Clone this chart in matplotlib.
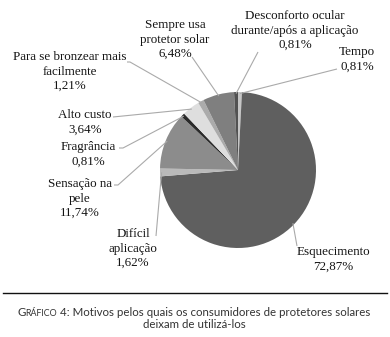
import matplotlib
matplotlib.use("Agg")
import matplotlib.pyplot as plt
import numpy as np

# Reasons consumers stop using sunscreen (share of answers, %)
categories = [
    "Tempo",
    "Esquecimento",
    "Difícil\naplicação",
    "Sensação na\npele",
    "Fragrância",
    "Alto custo",
    "Para se bronzear mais\nfacilmente",
    "Sempre usa\nprotetor solar",
    "Desconforto ocular\ndurante/após a aplicação",
]
values = [0.81, 72.87, 1.62, 11.74, 0.81, 3.64, 1.21, 6.48, 0.81]
colors = ["#c6c6c6", "#5f5f5f", "#bababa", "#8c8c8c", "#2a2a2a",
          "#dedede", "#ababab", "#7f7f7f", "#525252"]

W, H = 390, 337
fig = plt.figure(figsize=(W / 100, H / 100), dpi=100)

# pie placed by its centre and radius in pixels
cx, cy, r = 238, 170, 78
ax = fig.add_axes([(cx - r) / W, (H - cy - r) / H, 2 * r / W, 2 * r / H])
wedges, _ = ax.pie(values, colors=colors, startangle=90, counterclock=False,
                   radius=1.0, wedgeprops=dict(linewidth=0))
ax.set_xlim(-1, 1)
ax.set_ylim(-1, 1)
ax.set_aspect("equal")
ax.axis("off")

# overlay in pixel coordinates for labels and leader lines
ov = fig.add_axes([0, 0, 1, 1])
ov.set_xlim(0, W)
ov.set_ylim(H, 0)
ov.axis("off")
ov.patch.set_alpha(0)

# label centre x, first-line baseline y, and leader path end points
layout = {
    "Tempo": ((357, 55), [(337, 69)]),
    "Esquecimento": ((333, 255), [(297, 246)]),
    "Difícil\naplicação": ((133, 237), [(156, 236)]),
    "Sensação na\npele": ((80, 187), [(118, 185), (114, 185)]),
    "Fragrância": ((88, 150), [(123, 148), (119, 148)]),
    "Alto custo": ((85, 118), [(113, 117)]),
    "Para se bronzear mais\nfacilmente": ((70, 60), [(130, 62), (127, 62)]),
    "Sempre usa\nprotetor solar": ((175, 28), [(192, 57)]),
    "Desconforto ocular\ndurante/após a aplicação": ((295, 19), [(258, 52)]),
}

serif = "Liberation Serif"
fs = 9.4
line_h = 14.6
for w, name, v in zip(wedges, categories, values):
    mid = np.deg2rad((w.theta1 + w.theta2) / 2)
    ex = cx + 0.98 * r * np.cos(mid)
    ey = cy - 0.98 * r * np.sin(mid)
    (tx, ty), path = layout[name]
    xs = [ex] + [p[0] for p in path]
    ys = [ey] + [p[1] for p in path]
    ov.plot(xs, ys, color="#aaaaaa", lw=0.8, solid_capstyle="butt")
    label = name + "\n" + f"{v:.2f}".replace(".", ",") + "%"
    for i, line in enumerate(label.split("\n")):
        ov.text(tx, ty + i * line_h, line, ha="center", va="baseline",
                fontsize=fs, family=serif, color="#141414")

# caption separator
ov.plot([3, 387], [293, 293], color="#111111", lw=1.0)

cap_font = "Lato"
cap_col = "#333333"
cfs = 8.3
t1 = ov.text(12, 316, "G", fontsize=cfs, family=cap_font, color=cap_col,
             va="baseline", ha="left")
t2 = ov.annotate("RÁFICO", xy=(1, 0), xycoords=t1, fontsize=cfs * 0.77,
                 family=cap_font, color=cap_col, va="bottom", ha="left")
t3 = ov.annotate(" 4: Motivos pelos quais os consumidores de protetores solares",
                 xy=(1, 0), xycoords=t2, fontsize=cfs, family=cap_font,
                 color=cap_col, va="bottom", ha="left")
ov.text(194, 328, "deixam de utilizá-los", fontsize=cfs, family=cap_font,
        color=cap_col, va="baseline", ha="center")

# centre the composed first caption line
fig.canvas.draw()
rend = fig.canvas.get_renderer()
x0 = t1.get_window_extent(rend).x0
x1 = t3.get_window_extent(rend).x1
shift = (W / 2 - 1) - (x0 + x1) / 2
t1.set_x(12 + shift)

fig.savefig("out.png", dpi=100)
